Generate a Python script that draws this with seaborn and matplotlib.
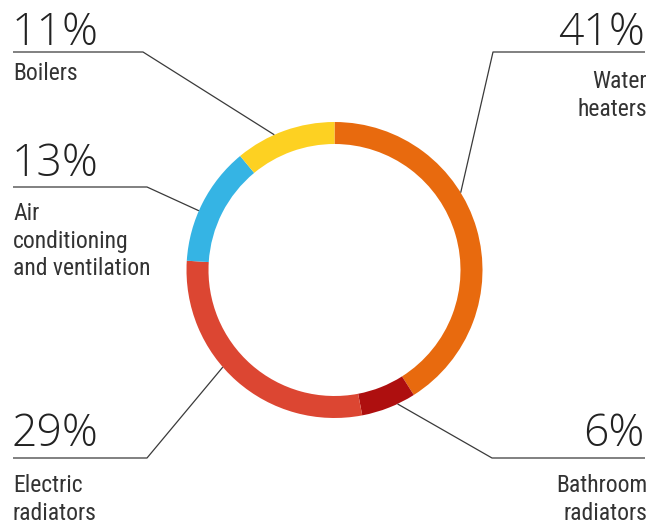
import matplotlib
matplotlib.use("Agg")
import matplotlib.pyplot as plt
import seaborn as sns
import numpy as np

# ---- data ----
categories = ["Water\nheaters", "Bathroom\nradiators", "Electric\nradiators",
              "Air\nconditioning\nand ventilation", "Boilers"]
shares = [41, 6, 29, 13, 11]
pct_labels = ["41%", "6%", "29%", "13%", "11%"]
colors = ["#E86A0E", "#AE0F0F", "#DC4632", "#35B4E4", "#FDD122"]

sns.set_theme(style="white")
plt.rcParams["font.family"] = ["Lato", "DejaVu Sans"]

W, H = 652, 525
fig = plt.figure(figsize=(W / 100, H / 100), dpi=100)
ax = fig.add_axes([0, 0, 1, 1])

def Y(y):
    return H - y

cx, cy, R, ring = 334.5, 270, 148, 22
wedges, _ = ax.pie(shares, colors=colors, startangle=90, counterclock=False,
                   center=(cx, Y(cy)), radius=R,
                   wedgeprops=dict(width=ring, linewidth=0))
ax.set_xlim(0, W)
ax.set_ylim(0, H)
ax.set_aspect("equal")
ax.axis("off")

layout = [
    (31.5, 493, 52, 645, "right", 45, 73),
    (-64.8, 492, 458, 645, "right", 446, 477),
    (221.0, 147, 458, 13, "left", 446, 477),
    (156.4, 147, 187, 13, "left", 176, 205),
    (114.0, 143, 52, 13, "left", 45, 65),
]
lc = "#3a3a3a"
for (ang, ex, ey, endx, side, pct_base, lab_top), cat, pct in zip(layout, categories, pct_labels):
    a = np.deg2rad(ang)
    px = cx + R * np.cos(a)
    py = Y(cy) + R * np.sin(a)
    ax.plot([px, ex, endx], [py, Y(ey), Y(ey)], color=lc, lw=0.9,
            solid_capstyle="butt")
    if side == "left":
        tx, ha = 13, "left"
    else:
        tx, ha = 645, "right"
    ax.text(tx - (1 if side == "left" else 0), Y(pct_base), pct, ha=ha, va="baseline",
            fontsize=32, fontweight=300, color="#222222",
            family=["Open Sans", "Lato", "DejaVu Sans"])
    ax.text(tx + (0 if side == "left" else 2), Y(lab_top - 3), cat, ha=ha, va="top",
            multialignment=ha, fontsize=17, color="#333333", linespacing=1.26,
            family=["Roboto Condensed", "Liberation Sans Narrow", "Roboto", "DejaVu Sans"])

fig.savefig("out.png", dpi=100, facecolor="white")
